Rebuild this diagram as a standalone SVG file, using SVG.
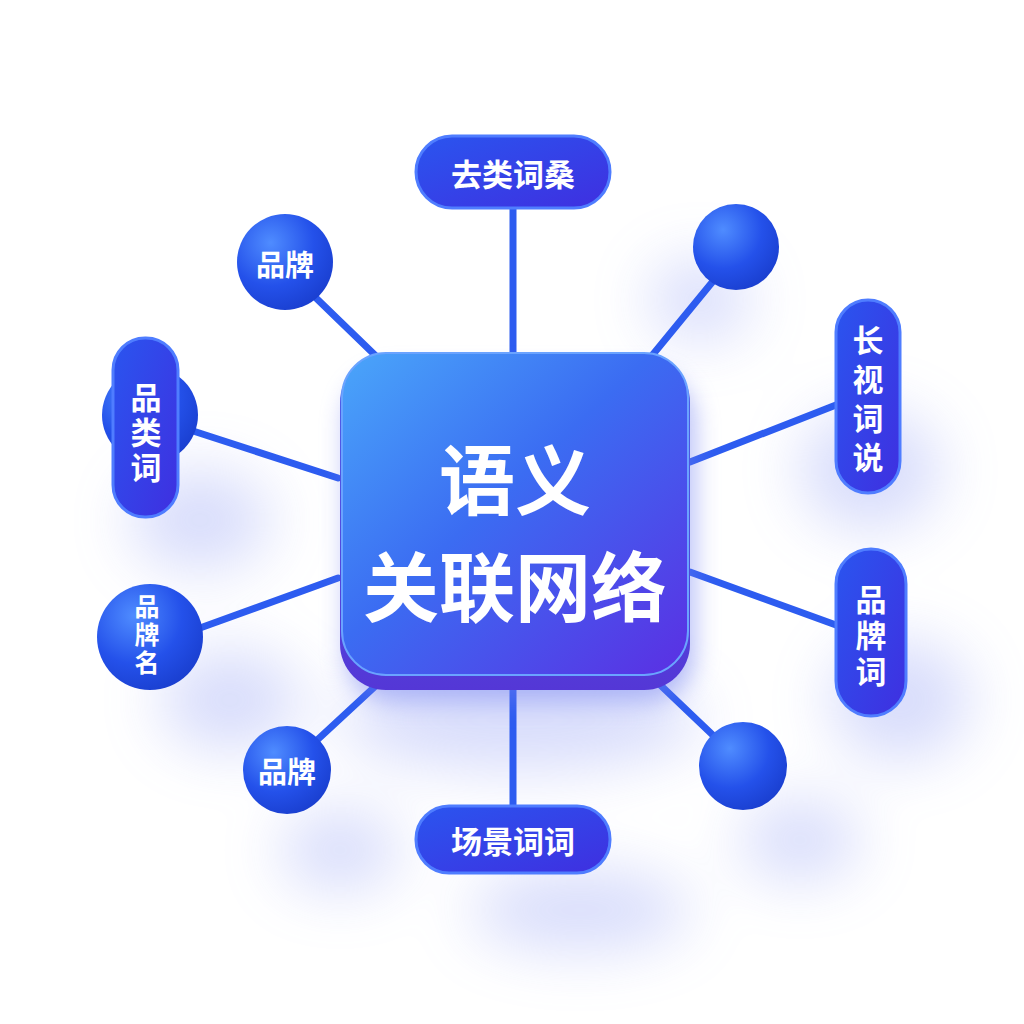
<svg xmlns="http://www.w3.org/2000/svg" width="1024" height="1024" viewBox="0 0 1024 1024">
<defs>
<style>
.lbl{font-family:"Noto Sans CJK SC","Noto Sans",sans-serif;font-weight:700;fill:#ffffff;text-anchor:middle;dominant-baseline:central}
.v{writing-mode:vertical-rl;text-orientation:upright}
.conn{stroke:#2d5cf0;stroke-width:7;stroke-linecap:round;fill:none}
.pill{fill:url(#pillG);stroke:#4f7dff;stroke-width:3}
.ball{fill:url(#ballG)}
</style>
<linearGradient id="centerG" x1="0" y1="0" x2="1" y2="1">
<stop offset="0" stop-color="#4aa6fa"/>
<stop offset="0.45" stop-color="#3b6cf2"/>
<stop offset="1" stop-color="#5b2fe3"/>
</linearGradient>
<linearGradient id="centerEdge" x1="0" y1="0" x2="0" y2="1">
<stop offset="0" stop-color="#4d63ea"/>
<stop offset="1" stop-color="#5437d6"/>
</linearGradient>
<linearGradient id="pillG" x1="0" y1="0" x2="1" y2="1">
<stop offset="0" stop-color="#2a55ef"/>
<stop offset="1" stop-color="#3f2fe0"/>
</linearGradient>
<radialGradient id="ballG" cx="0.35" cy="0.3" r="0.75">
<stop offset="0" stop-color="#4f8cff"/>
<stop offset="0.6" stop-color="#2451ea"/>
<stop offset="1" stop-color="#1a3fd0"/>
</radialGradient>
<filter id="blur" x="-50%" y="-50%" width="200%" height="200%"><feGaussianBlur stdDeviation="30"/></filter>
<filter id="shadow" x="-30%" y="-30%" width="160%" height="160%"><feGaussianBlur stdDeviation="12"/></filter>
</defs>
<rect width="1024" height="1024" fill="#ffffff"/>
<g id="background-glow" filter="url(#blur)" fill="#8f9cf5" opacity="0.35">
<ellipse cx="200" cy="520" rx="70" ry="50"/>
<ellipse cx="230" cy="700" rx="70" ry="50"/>
<ellipse cx="870" cy="470" rx="70" ry="60"/>
<ellipse cx="900" cy="700" rx="70" ry="60"/>
<ellipse cx="580" cy="910" rx="110" ry="40"/>
<ellipse cx="800" cy="840" rx="60" ry="40"/>
<ellipse cx="340" cy="850" rx="60" ry="40"/>
<ellipse cx="520" cy="720" rx="180" ry="50"/>
<ellipse cx="700" cy="300" rx="50" ry="40"/>
</g>
<g id="connectors">
<line class="conn" x1="513" y1="208" x2="513" y2="356"/>
<line class="conn" x1="650" y1="358" x2="714" y2="280"/>
<line class="conn" x1="690" y1="462" x2="836" y2="405"/>
<line class="conn" x1="690" y1="572" x2="836" y2="625"/>
<line class="conn" x1="655" y1="680" x2="718" y2="740"/>
<line class="conn" x1="513" y1="690" x2="513" y2="806"/>
<line class="conn" x1="382" y1="680" x2="315" y2="742"/>
<line class="conn" x1="338" y1="578" x2="200" y2="628"/>
<line class="conn" x1="338" y1="478" x2="190" y2="430"/>
<line class="conn" x1="378" y1="358" x2="316" y2="298"/>
</g>
<g id="center">
<rect x="345" y="372" width="350" height="330" rx="48" fill="#6f7ef0" opacity="0.5" filter="url(#shadow)"/>
<rect x="340" y="356" width="350" height="334" rx="46" fill="url(#centerEdge)"/>
<rect x="342" y="353" width="346" height="322" rx="44" fill="url(#centerG)" stroke="#6aa3ff" stroke-width="2"/>
<text class="lbl" x="515" y="476" font-size="76">语义</text>
<text class="lbl" x="515" y="583" font-size="76">关联网络</text>
</g>
<g id="node-top">
<rect class="pill" x="416" y="136" width="194" height="72" rx="36"/>
<text class="lbl" x="513" y="172" font-size="31">去类词桑</text>
</g>
<g id="node-top-right">
<circle class="ball" cx="736" cy="247" r="43"/>
</g>
<g id="node-right-1">
<rect class="pill" x="836" y="300" width="64" height="193" rx="32"/>
<text class="lbl v" x="868" y="403" font-size="31" letter-spacing="8">长视词说</text>
</g>
<g id="node-right-2">
<rect class="pill" x="836" y="549" width="70" height="167" rx="35"/>
<text class="lbl v" x="871" y="638" font-size="31" letter-spacing="5">品牌词</text>
</g>
<g id="node-bottom-right">
<circle class="ball" cx="743" cy="766" r="44"/>
</g>
<g id="node-bottom">
<rect class="pill" x="416" y="806" width="194" height="67" rx="33"/>
<text class="lbl" x="513" y="839" font-size="31">场景词词</text>
</g>
<g id="node-bottom-left">
<circle class="ball" cx="287" cy="770" r="44"/>
<text class="lbl" x="287" y="770" font-size="29">品牌</text>
</g>
<g id="node-left-2">
<circle class="ball" cx="150" cy="637" r="53"/>
<text class="lbl v" x="147" y="636" font-size="25" letter-spacing="3">品牌名</text>
</g>
<g id="node-left-1">
<circle class="ball" cx="150" cy="415" r="48"/>
<rect class="pill" x="113" y="338" width="65" height="179" rx="32"/>
<text class="lbl v" x="146" y="434" font-size="31" letter-spacing="4">品类词</text>
</g>
<g id="node-top-left">
<circle class="ball" cx="285" cy="262" r="48"/>
<text class="lbl" x="285" y="263" font-size="29">品牌</text>
</g>
</svg>
